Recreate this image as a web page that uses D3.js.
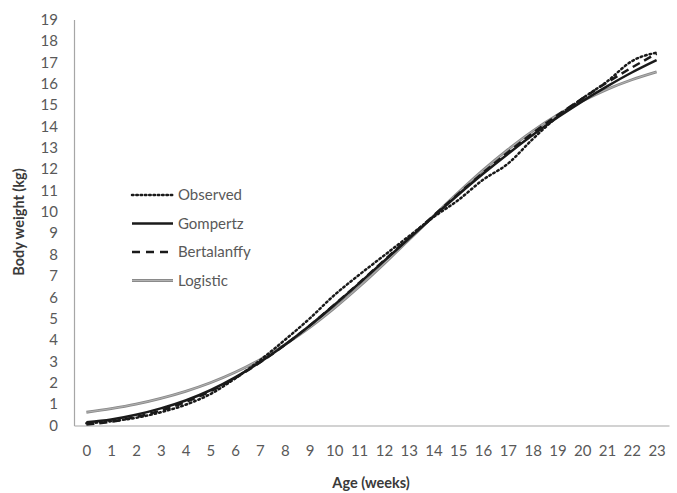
<!DOCTYPE html>
<html>
<head>
<meta charset="utf-8">
<script src="https://cdn.jsdelivr.net/npm/d3@7"></script>
<style>
  html, body { margin: 0; padding: 0; background: #fff; }
  svg { display: block; }
</style>
</head>
<body>
<svg id="chart" width="677" height="493"></svg>
<script>
// ---- data ----
const weeks = [0,1,2,3,4,5,6,7,8,9,10,11,12,13,14,15,16,17,18,19,20,21,22,23];
const observed    = [0.10,0.20,0.36,0.62,0.97,1.47,2.20,3.05,4.00,5.00,6.10,7.05,7.95,8.85,9.75,10.55,11.50,12.25,13.40,14.45,15.30,16.10,17.05,17.45];
const gompertz    = [0.15,0.28,0.50,0.80,1.17,1.65,2.25,2.96,3.77,4.67,5.64,6.65,7.69,8.74,9.78,10.80,11.78,12.71,13.59,14.41,15.17,15.87,16.52,17.10];
const bertalanffy = [0.05,0.18,0.40,0.70,1.10,1.60,2.22,2.95,3.77,4.67,5.65,6.67,7.72,8.78,9.82,10.84,11.83,12.78,13.68,14.52,15.30,16.05,16.75,17.40];
const logistic    = [0.62,0.79,1.00,1.27,1.60,2.00,2.49,3.08,3.78,4.58,5.49,6.49,7.56,8.68,9.80,10.90,11.95,12.91,13.78,14.53,15.18,15.73,16.18,16.55];
const yTicks = d3.range(0, 20);
const seriesNames = ["Observed","Gompertz","Bertalanffy","Logistic"];

// ---- layout ----
const svg = d3.select("#chart");
const plot = {left: 74, right: 669, top: 19.5, bottom: 425.5};
const font = "Lato, 'Open Sans', sans-serif";
const fs = 15;

const x = d3.scalePoint().domain(weeks).range([plot.left, plot.right]).padding(0.5);
const y = d3.scaleLinear().domain([0, 19]).range([plot.bottom, plot.top]);

const styles = {
  Observed:    {data: observed,    color: "#1a1a1a", width: 2.5, dash: "1.6,3", cap: "round"},
  Gompertz:    {data: gompertz,    color: "#1a1a1a", width: 2.5, dash: null, cap: "butt"},
  Bertalanffy: {data: bertalanffy, color: "#1a1a1a", width: 2.5, dash: "8,5", cap: "butt"},
  Logistic:    {data: logistic,    color: "#8a8a8a", width: 2.8, dash: null, cap: "butt"}
};

// axes
const yAxis = d3.axisLeft(y).tickValues(yTicks).tickSize(0).tickPadding(16);
const gy = svg.append("g").attr("transform", `translate(${plot.left},0)`).call(yAxis);
gy.select(".domain").attr("stroke", "#a6a6a6").attr("stroke-width", 1.2);
gy.selectAll("text").attr("font-family", font).attr("font-size", fs).attr("fill", "#595959");

const xAxis = d3.axisBottom(x).tickSize(0).tickPadding(20);
const gx = svg.append("g").attr("transform", `translate(0,${plot.bottom})`).call(xAxis);
gx.select(".domain").attr("stroke", "#a6a6a6").attr("stroke-width", 1.2);
gx.selectAll("text").attr("font-family", font).attr("font-size", fs).attr("fill", "#595959");

// lines
const line = d3.line().x((d, i) => x(weeks[i])).y(d => y(d)).curve(d3.curveMonotoneX);
const order = ["Logistic","Bertalanffy","Gompertz","Observed"];
order.forEach(name => {
  const s = styles[name];
  const p = svg.append("path").datum(s.data)
    .attr("d", line).attr("fill", "none")
    .attr("stroke", s.color).attr("stroke-width", s.width)
    .attr("stroke-linecap", s.cap);
  if (s.dash) p.attr("stroke-dasharray", s.dash);
  if (name === "Logistic") {
    svg.append("path").datum(s.data).attr("d", line).attr("fill", "none")
      .attr("stroke", "#bdbdbd").attr("stroke-width", 0.8);
  }
});

// legend
const legendY0 = 195, legendStep = 28.5;
seriesNames.forEach((name, i) => {
  const s = styles[name];
  const ly = legendY0 + i * legendStep;
  const l = svg.append("line").attr("x1", 132).attr("x2", 173).attr("y1", ly).attr("y2", ly)
    .attr("stroke", s.color).attr("stroke-width", s.width).attr("stroke-linecap", s.cap);
  if (s.dash) l.attr("stroke-dasharray", name === "Observed" ? "1.5,2.8" : "8,6");
  if (name === "Logistic") {
    svg.append("line").attr("x1", 132).attr("x2", 173).attr("y1", ly).attr("y2", ly)
      .attr("stroke", "#bdbdbd").attr("stroke-width", 0.8);
  }
  svg.append("text").attr("x", 178).attr("y", ly).attr("dy", "0.35em")
    .attr("font-family", font).attr("font-size", fs).attr("fill", "#595959").text(name);
});

// axis titles
svg.append("text").attr("x", 371).attr("y", 488).attr("text-anchor", "middle")
  .attr("font-family", font).attr("font-size", 14.5).attr("font-weight", "bold").attr("fill", "#3a3a3a")
  .text("Age (weeks)");
svg.append("text").attr("transform", "translate(24,222) rotate(-90)").attr("text-anchor", "middle")
  .attr("font-family", font).attr("font-size", 14.5).attr("font-weight", "bold").attr("fill", "#3a3a3a")
  .text("Body weight (kg)");
</script>
</body>
</html>
